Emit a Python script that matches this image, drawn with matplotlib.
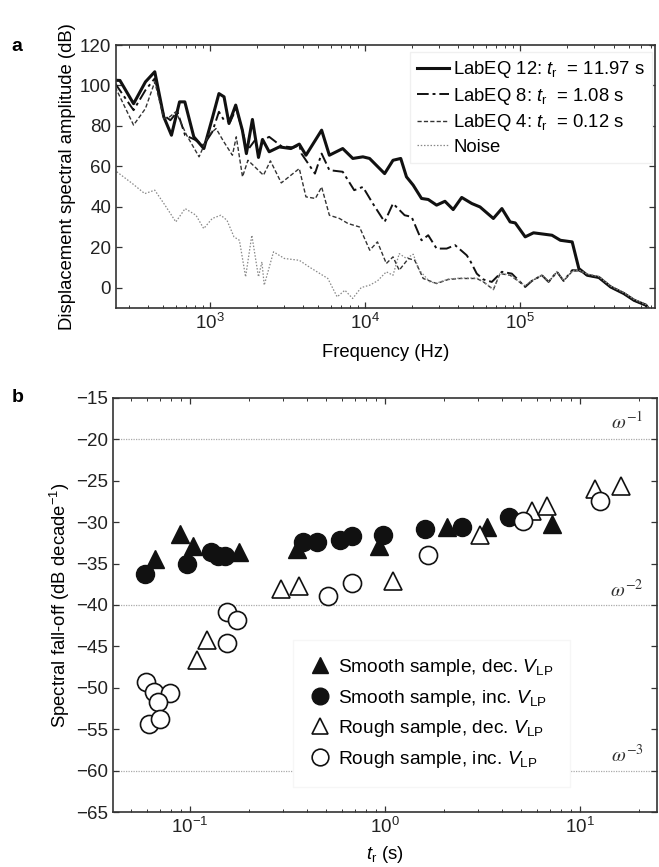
import matplotlib
matplotlib.use('Agg')
import matplotlib.pyplot as plt
from matplotlib.lines import Line2D

plt.rcParams['font.family'] = 'Liberation Sans'
plt.rcParams['mathtext.fontset'] = 'custom'
plt.rcParams['mathtext.rm'] = 'Liberation Sans'
plt.rcParams['mathtext.it'] = 'Liberation Sans:italic'
plt.rcParams['mathtext.bf'] = 'Liberation Sans:bold'

# ---- panel a: spectra (frequency in Hz, amplitude in dB) ----
f_eq12 = [245, 263, 322, 384, 441, 504, 565, 637, 689, 787, 914, 1035, 1143, 1233,
          1327, 1466, 1618, 1718, 1879, 2056, 2183, 2410, 2799, 3327, 3767, 4159,
          5248, 5888, 7178, 8337, 9683, 10690, 13370, 15140, 16980, 18490, 20420,
          23120, 25530, 28910, 32730, 36980, 41980, 48750, 55080, 67140, 76210,
          86100, 92900, 107700, 121900, 160300, 181600, 216300, 238800, 270400,
          321400, 382800, 466700, 542000, 645700, 693500]
a_eq12 = [102.6, 102.5, 91, 101.8, 106.8, 84.5, 75.4, 91.9, 91.9, 74.6, 68.8, 83.7,
          96, 94.4, 81.2, 90.3, 77.9, 66.3, 83.2, 64.4, 73.3, 67.2, 69.6, 68.8, 71,
          65.5, 77.9, 65.5, 68.8, 63.9, 64.7, 63.9, 56.4, 63, 63.9, 54.8, 50.7,
          44.1, 43.6, 40.8, 42.7, 38.6, 44.6, 41.6, 39.9, 34.2, 39.1, 32.5, 32,
          25.1, 27.1, 25.9, 23.4, 22.6, 9.4, 6.1, 5, 0.3, -3, -6.3, -8.7, -12]

f_eq8 = [245, 322, 384, 441, 504, 556, 617, 692, 794, 912, 1035, 1143, 1233, 1349,
         1479, 1660, 1718, 1950, 2183, 2410, 2884, 3467, 3767, 3890, 4753, 5248,
         5888, 7178, 8511, 9683, 11220, 13370, 15140, 17990, 19950, 23120, 25530,
         28910, 33570, 38020, 45190, 47420, 52480, 57940, 65610, 76210, 88310,
         107700, 118900, 138000, 152400, 172600, 190500, 216300, 238800, 270400,
         321400, 382800, 466700, 542000, 645700, 693500]
a_eq8 = [101, 87.8, 97.7, 103.5, 85.3, 82.8, 87, 75.4, 73.3, 70.5, 77, 87, 82.8, 82,
         88.6, 74.6, 67.2, 72.9, 72.9, 74.6, 70, 69.3, 70.5, 66.3, 56.4, 66.3,
         58.1, 57.3, 48.2, 49.8, 41.6, 32.5, 41.6, 35.8, 35, 23.4, 25.9, 19.3,
         19.3, 21, 16, 13.5, 6.9, 4, 2.8, 7.8, 6.9, 0.3, 3.3, 6.1, 2.8, 7.8, 3.3,
         8.6, 8.5, 6.1, 5, 0.3, -3, -6.3, -8.7, -12]

f_eq4 = [245, 322, 384, 441, 504, 550, 603, 708, 851, 977, 1096, 1230, 1396, 1479,
         1622, 1758, 1950, 2213, 2455, 2884, 3767, 4159, 4786, 5248, 5888, 6839,
         7762, 9204, 10720, 12020, 13710, 15140, 16600, 19050, 20890, 23710, 28910,
         34360, 40740, 52480, 57940, 67140, 74130, 86100, 107700, 118900, 138000,
         152400, 172600, 190500, 216300, 238800, 270400, 321400, 382800, 466700,
         542000, 645700, 693500]
a_eq4 = [99.3, 80.4, 88.6, 101.8, 83.7, 84.5, 87, 75.4, 64.7, 75.4, 78.7, 72.1, 65.5,
         74.6, 54.8, 63, 59.7, 55.6, 62.7, 51.8, 58.9, 44.9, 44.1, 49.8, 35.8, 34.2,
         31.7, 30, 18.5, 22.6, 11.9, 15.2, 8.6, 14.4, 13.5, 4.5, 2, 4, 4.5, 4.5,
         2.8, -1, 6.9, 6.1, 0.7, 3.3, 6.1, 2.8, 7.8, 3.3, 8, 8.5, 6.5, 5.3, 0.6,
         -2.7, -6, -8.5, -11.7]

f_noise = [251, 316, 380, 441, 513, 603, 692, 813, 912, 1035, 1175, 1288, 1429, 1549,
           1698, 1862, 2056, 2163, 2239, 2570, 3020, 3767, 4365, 5754, 6607, 7413,
           8318, 9441, 10720, 12020, 13710, 15140, 16600, 18490, 20420, 22390, 26180,
           28910, 34360, 40740, 52480, 57940, 67140, 74130, 86100, 107700, 118900,
           138000, 152400, 172600, 190500, 216300, 238800, 270400, 321400, 382800,
           466700, 542000, 645700, 693500]
a_noise = [57.3, 51.5, 46.5, 48.2, 40.8, 32.5, 39.1, 35.8, 29.2, 34.2, 35.8, 33.3,
           25.1, 23.4, 5.3, 25.9, 5.3, 12.7, 1.2, 17.7, 14.4, 13.5, 10.2, 4.5, -4.6,
           -1.3, -5.4, 0, 1.2, 3.3, 7.8, 6.1, 16.8, 14.4, 16.5, 8.6, 2.8, 2.2, 4.2,
           4.7, 4.7, 3, -0.8, 7, 6.3, 1, 3.5, 6.3, 3, 8, 3.5, 8.2, 8.7, 6.7, 5.5,
           0.8, -2.5, -5.8, -8.3, -11.5]

# ---- panel b: spectral fall-off vs rupture time ----
tr_smooth_dec = [0.066, 0.089, 0.104, 0.178, 0.356, 0.93, 2.07, 3.33, 7.2]
fo_smooth_dec = [-34.5, -31.4, -32.9, -33.6, -33.2, -32.9, -30.6, -30.6, -30.2]

tr_smooth_inc = [0.0587, 0.0966, 0.129, 0.14, 0.151, 0.378, 0.447, 0.586, 0.681,
                 0.973, 1.60, 2.48, 4.31]
fo_smooth_inc = [-36.3, -35.1, -33.6, -34.1, -34.1, -32.4, -32.4, -32.2, -31.7,
                 -31.5, -30.8, -30.6, -29.4]

tr_rough_dec = [0.109, 0.1225, 0.292, 0.364, 1.10, 3.08, 5.69, 6.8, 11.9, 16.3]
fo_rough_dec = [-46.6, -44.2, -38.1, -37.7, -37.1, -31.6, -28.6, -28.1, -26.05, -25.65]

tr_rough_inc = [0.0598, 0.0652, 0.0788, 0.0686, 0.0616, 0.070, 0.155, 0.175, 0.155,
                0.509, 0.68, 1.67, 5.09, 12.6]
fo_rough_inc = [-49.3, -50.5, -50.6, -51.7, -54.3, -53.8, -40.9, -41.8, -44.55,
                -38.9, -37.3, -34.0, -29.9, -27.5]

slope_lines = [-20, -40, -60]
slope_labels = [r'$\omega^{-1}$', r'$\omega^{-2}$', r'$\omega^{-3}$']
slope_label_y = [-17.9, -38.2, -58.1]

fig = plt.figure(figsize=(6.59, 8.67), dpi=100)
ax1 = fig.add_axes([0.176, 0.645, 0.818, 0.303])
ax2 = fig.add_axes([0.171, 0.0632, 0.8255, 0.478])

spine_col = '#333333'
for ax in (ax1, ax2):
    for s in ax.spines.values():
        s.set_color(spine_col)
        s.set_linewidth(1.2)
    ax.set_xscale('log')
    ax.tick_params(which='both', direction='in', top=True, right=True,
                   labelsize=13.5, colors=spine_col, labelcolor='#222222')
    ax.tick_params(which='major', length=4.5, width=0.9)
    ax.tick_params(which='minor', length=2.5, width=0.7)

# panel a
ax1.plot(f_eq12, a_eq12, color='#111111', lw=2.2, label=r'LabEQ 12: $t_{\rm r}$  = 11.97 s')
ax1.plot(f_eq8, a_eq8, color='#111111', lw=1.4, dashes=(6, 2, 1.5, 2),
         label=r'LabEQ 8: $t_{\rm r}$  = 1.08 s')
ax1.plot(f_eq4, a_eq4, color='#333333', lw=1.0, dashes=(3, 1.6),
         label=r'LabEQ 4: $t_{\rm r}$  = 0.12 s')
ax1.plot(f_noise, a_noise, color='#888888', lw=0.9, dashes=(1.2, 1.4), label='Noise')
ax1.set_xlim(248, 7.4e5)
ax1.set_ylim(-10, 120)
ax1.set_yticks(range(0, 121, 20))
ax1.set_xlabel('Frequency (Hz)', fontsize=13.3, labelpad=8)
ax1.set_ylabel('Displacement spectral amplitude (dB)', fontsize=13.3, labelpad=3)
ax1.legend(loc='upper right', bbox_to_anchor=(0.995, 0.975), borderaxespad=0,
           fontsize=13.3, handlelength=1.7, handletextpad=0.25, labelspacing=0.3,
           frameon=True, fancybox=False, framealpha=1, edgecolor='#f0f0f0')

# panel b
for yv in slope_lines:
    ax2.axhline(yv, color='#aaaaaa', lw=0.9, ls=(0, (1, 1)), zorder=0)
ax2.plot(tr_smooth_dec, fo_smooth_dec, ls='none', marker='^', ms=13, mfc='#111111',
         mec='#111111', mew=1.0)
ax2.plot(tr_smooth_inc, fo_smooth_inc, ls='none', marker='o', ms=13, mfc='#111111',
         mec='#111111', mew=1.0)
ax2.plot(tr_rough_dec, fo_rough_dec, ls='none', marker='^', ms=13, mfc='white',
         mec='#111111', mew=1.2)
ax2.plot(tr_rough_inc, fo_rough_inc, ls='none', marker='o', ms=13, mfc='white',
         mec='#111111', mew=1.2)
for lab, yv in zip(slope_labels, slope_label_y):
    ax2.text(17.4, yv, lab, ha='center', va='center', fontsize=14.5,
             math_fontfamily='stix', color='#333333')
ax2.set_xlim(0.0402, 24.7)
ax2.set_ylim(-65, -15)
ax2.set_yticks(range(-65, -14, 5))
ax2.set_xlabel(r'$t_{\rm r}$ (s)', fontsize=13.3, labelpad=5)
ax2.set_ylabel(r'Spectral fall-off (dB decade$^{-1}$)', fontsize=13.3, labelpad=3)

handles = [
    Line2D([], [], ls='none', marker='^', ms=12, mfc='#111111', mec='#111111'),
    Line2D([], [], ls='none', marker='o', ms=12, mfc='#111111', mec='#111111'),
    Line2D([], [], ls='none', marker='^', ms=12, mfc='white', mec='#111111', mew=1.2),
    Line2D([], [], ls='none', marker='o', ms=12, mfc='white', mec='#111111', mew=1.2),
]
labels = [r'Smooth sample, dec. $V_{\rm LP}$', r'Smooth sample, inc. $V_{\rm LP}$',
          r'Rough sample, dec. $V_{\rm LP}$', r'Rough sample, inc. $V_{\rm LP}$']
ax2.legend(handles, labels, loc='lower left', bbox_to_anchor=(0.331, 0.061),
           borderaxespad=0, fontsize=13.8, handlelength=1.0, handletextpad=0.45,
           labelspacing=0.5, borderpad=0.9, frameon=True, fancybox=False,
           framealpha=1, edgecolor='#f6f6f6')

fig.text(0.018, 0.946, 'a', fontsize=14, fontweight='bold', va='center')
fig.text(0.018, 0.541, 'b', fontsize=14, fontweight='bold', va='center')

fig.savefig('out.png', dpi=100)
